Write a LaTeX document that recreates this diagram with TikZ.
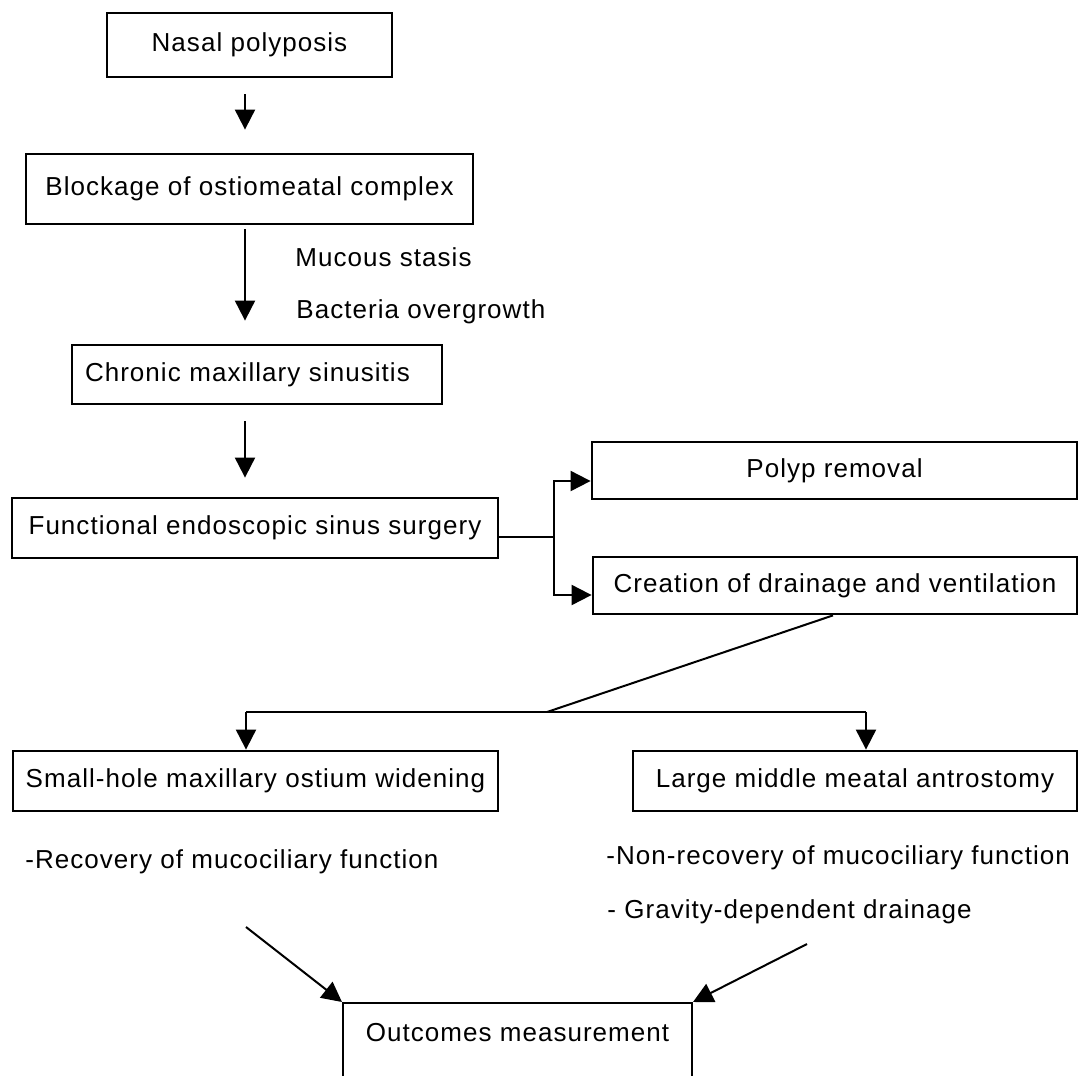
\documentclass[tikz,border=0pt]{standalone}
\usepackage{fontspec}
\setmainfont[LetterSpace=4]{Liberation Sans}
\usetikzlibrary{arrows.meta}

\begin{document}
\begin{tikzpicture}[x=0.5pt, y=-0.5pt,
    font=\fontsize{13}{16}\selectfont,
    box/.style={draw, rectangle, line width=1.4pt, inner sep=0pt},
    arr/.style={-{Triangle[length=10pt,width=10pt]}, line width=1pt},
    lbl/.style={anchor=west, inner sep=0pt}
    ]
    \path[use as bounding box, clip] (0,0) rectangle (1087,1076);
    \node[box, minimum width=142.5pt, minimum height=32pt] (np) at (249.5,45) {Nasal polyposis};
    \node[box, minimum width=223.5pt, minimum height=35pt] (blk) at (249.5,189) {Blockage of ostiomeatal complex};
    \node[box, minimum width=185pt, minimum height=29.5pt, text width=172pt, align=left] (cms) at (257,374.5) {Chronic maxillary sinusitis};
    \node[box, minimum width=243pt, minimum height=30pt] (fess) at (255,528) {Functional endoscopic sinus surgery};
    \node[box, minimum width=242.5pt, minimum height=28.5pt] (polyp) at (834.5,470.5) {Polyp removal};
    \node[box, minimum width=242pt, minimum height=28.5pt] (cdv) at (835,585.5) {Creation of drainage and ventilation};
    \node[box, minimum width=242.5pt, minimum height=30pt] (shm) at (255.5,781) {Small-hole maxillary ostium widening};
    \node[box, minimum width=222pt, minimum height=30pt] (lmm) at (855,781) {Large middle meatal antrostomy};
    \node[box, line width=1pt, anchor=north, minimum width=174.5pt, text height=19pt, text depth=30pt] (out) at (517.5,1002) {Outcomes measurement};

    \node[lbl] (ms) at (295,257) {Mucous stasis};
    \node[lbl] (bo) at (296,312) {Bacteria overgrowth};
    \node[lbl] (rec) at (25,862) {-Recovery of mucociliary function};
    \node[lbl] (nrec) at (606,858) {-Non-recovery of mucociliary function};
    \node[lbl] (grav) at (607,912) {- Gravity-dependent drainage};

    \coordinate (ax) at (245,0);
    \coordinate (fk) at (554,537);
    \coordinate (sp) at (547,712);
    \coordinate (sl) at (246,712);
    \coordinate (sr) at (866,712);
    \coordinate (ia) at (246,927);
    \coordinate (ib) at (807,944);

    \draw[arr, shorten <=8pt, shorten >=11.5pt] (np.south -| ax) -- (blk.north -| ax);
    \draw[arr, shorten <=2pt, shorten >=11.5pt] (blk.south -| ax) -- (cms.north -| ax);
    \draw[arr, shorten <=8pt, shorten >=9.5pt] (cms.south -| ax) -- (fess.north -| ax);
    \draw[line width=1pt] (fess.east |- fk) -- (fk);
    \draw[arr] (fk) |- ([yshift=-5.25pt]polyp.west);
    \draw[arr] (fk) |- ([yshift=-4.75pt]cdv.west);
    \draw[line width=1pt] ([xshift=-1pt]cdv.south) -- (sp);
    \draw[line width=1pt] (sl) -- (sr);
    \draw[arr] (sl) -- (sl |- shm.north);
    \draw[arr] (sr) -- (sr |- lmm.north);
    \draw[arr] (ia) -- (out.north west);
    \draw[arr] (ib) -- (out.north east);
\end{tikzpicture}
\end{document}
